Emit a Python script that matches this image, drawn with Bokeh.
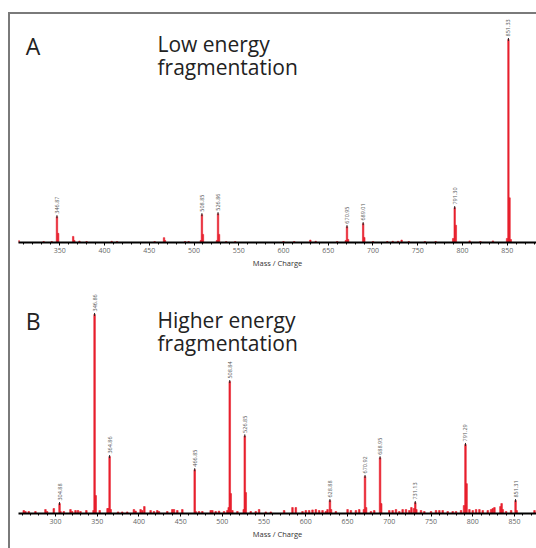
import math
from bokeh.plotting import figure
from bokeh.layouts import column
from bokeh.models import Range1d, Label, ColumnDataSource
from bokeh.core.properties import value
from bokeh.embed import file_html
from bokeh.resources import INLINE

# ---------------- data ----------------
# Panel A: low energy fragmentation (relative intensity, %)
a_mz = [304, 332, 341, 346.87, 348.2, 365.0, 366.3, 372, 380, 408, 414, 456, 466.5, 467.6,
        490, 494, 507.6, 508.85, 510.0, 525.6, 526.86, 528.0, 536, 546,
        600, 612, 630, 636, 660, 669.6, 670.95, 672.2, 689.01, 690.3, 700, 716, 722, 728, 732, 740,
        758, 770, 789.6, 791.30, 792.6, 808, 820, 834, 849.8, 851.33, 852.6, 854]
a_int = [1.0, 0.5, 0.5, 12.7, 4.5, 3.0, 1.0, 0.7, 0.5, 0.6, 0.5, 0.5, 2.4, 1.0,
         0.5, 0.5, 1.0, 13.7, 4.0, 1.0, 14.2, 4.0, 0.5, 0.5,
         0.5, 0.5, 1.2, 0.6, 0.5, 1.0, 7.8, 1.5, 9.3, 2.5, 0.5, 0.5, 0.6, 0.6, 1.2, 0.5,
         0.5, 0.5, 2.0, 17.2, 8.5, 0.8, 0.5, 0.8, 2.0, 100.0, 22.0, 1.5]
a_lab_mz = [346.87, 508.85, 526.86, 670.95, 689.01, 791.30, 851.33]
a_lab_int = [12.7, 13.7, 14.2, 7.8, 9.3, 17.2, 100.0]
a_labels = ["346.87", "508.85", "526.86", "670.95", "689.01", "791.30", "851.33"]

# Panel B: higher energy fragmentation (relative intensity, %)
b_mz = [262, 264, 268, 276, 288, 290, 298, 304.88, 306, 310, 318, 320, 324, 327, 330, 337,
        345.6, 346.86, 348.2, 353, 362.4, 363.3, 364.86, 366.2, 375, 380, 386, 394, 396, 402, 404,
        406.5, 414, 418, 422, 424, 434, 440, 442, 446, 452, 466.85, 468, 472, 476, 486, 488,
        492, 496, 502, 506, 507.6, 508.84, 510.0, 512, 518, 525.6, 526.85, 528.0, 534, 540, 544,
        552, 558, 574, 584, 588, 596, 600, 604, 608, 612, 616, 620, 624, 626, 628.88, 630.2, 636,
        650, 654, 660, 664, 669.6, 670.92, 672.2, 678, 682, 688.95, 690.3, 700, 704, 708, 712,
        716, 720, 724, 726.5, 729.6, 731.13, 732.4, 738, 742, 750, 756, 760, 764, 770, 776, 780,
        786, 789.6, 791.29, 792.6, 796, 800, 804, 808, 812, 818, 822, 824, 826, 833.2, 834.6, 836,
        840, 846, 851.31, 852.6, 874]
b_int = [1.5, 1.0, 1.0, 1.0, 2.0, 1.0, 2.5, 5.0, 1.0, 1.0, 2.0, 1.0, 1.5, 1.5, 1.0, 1.5,
         1.5, 100.0, 9.0, 1.5, 2.5, 2.5, 28.6, 2.0, 0.8, 0.8, 0.8, 2.0, 1.2, 2.0, 1.5,
         3.5, 1.5, 1.0, 1.5, 1.0, 1.0, 2.0, 2.0, 1.5, 2.0, 22.0, 1.0, 1.0, 1.0, 1.5, 1.5,
         1.0, 1.2, 1.0, 1.5, 3.0, 66.3, 10.0, 1.5, 1.0, 2.0, 39.0, 10.5, 1.0, 1.0, 2.0,
         0.8, 0.8, 1.5, 3.0, 3.0, 1.0, 1.5, 1.5, 1.8, 2.0, 1.5, 1.5, 1.0, 2.0, 6.5, 2.0, 1.0,
         2.0, 1.5, 1.5, 2.0, 2.0, 18.6, 3.0, 1.0, 1.5, 28.0, 5.0, 1.5, 1.5, 2.0, 1.0,
         2.0, 2.0, 1.5, 3.0, 2.5, 5.5, 2.0, 1.5, 1.0, 1.0, 1.5, 1.5, 1.5, 1.0, 1.0, 1.0,
         1.5, 4.0, 34.7, 15.0, 2.0, 1.5, 2.0, 2.0, 1.5, 1.5, 2.0, 2.5, 3.0, 3.5, 5.0, 2.0,
         1.0, 1.5, 6.5, 1.5, 1.5]
b_lab_mz = [304.88, 346.86, 364.86, 466.85, 508.84, 526.85, 628.88, 670.92, 688.95, 731.13, 791.29, 851.31]
b_lab_int = [5.0, 100.0, 28.6, 22.0, 66.3, 39.0, 6.5, 18.6, 28.0, 5.5, 34.7, 6.5]
b_labels = ["304.88", "346.86", "364.86", "466.85", "508.84", "526.85", "628.88", "670.92",
            "688.95", "731.13", "791.29", "851.31"]

RED = "#e8202e"
FONT = "Open Sans"
FONT_V = value(FONT)


def make_panel(mz, inten, lab_mz, lab_int, labels, xr, yr, h, bottom, bar_w,
               letter, line1, line2, pos):
    p = figure(width=526, height=h, x_range=Range1d(*xr), y_range=Range1d(*yr),
               output_backend="svg", toolbar_location=None, y_axis_location=None,
               min_border_left=8, min_border_right=0, min_border_top=0,
               min_border_bottom=bottom)
    p.outline_line_color = None
    p.grid.visible = False
    p.background_fill_color = None
    p.border_fill_color = None

    src = ColumnDataSource(dict(x=mz, top=inten))
    p.vbar(x="x", top="top", bottom=0, width=bar_w, source=src,
           fill_color=RED, line_color=RED, line_width=0.6)

    lsrc = ColumnDataSource(dict(x=lab_mz, y=lab_int, t=labels))
    p.scatter(x="x", y="y", source=lsrc, marker="dash", angle=math.pi / 2, size=3,
              line_color="#222222", line_width=1)
    p.text(x="x", y="y", text="t", source=lsrc, angle=math.pi / 2,
           text_align="left", text_baseline="middle", x_offset=0, y_offset=-3,
           text_font_size="5.5px", text_color="#555555", text_font=FONT_V)

    ax = p.xaxis[0]
    ax.axis_line_color = "black"
    ax.axis_line_width = 2
    ax.major_tick_line_color = "black"
    ax.minor_tick_line_color = "black"
    ax.major_tick_in = 0
    ax.major_tick_out = 3
    ax.minor_tick_in = 0
    ax.minor_tick_out = 2
    ax.major_label_standoff = 2
    ax.major_label_text_font = FONT
    ax.major_label_text_font_size = "7px"
    ax.major_label_text_color = "#666666"
    ax.axis_label = "Mass / Charge"
    ax.axis_label_text_font = FONT
    ax.axis_label_text_font_size = "7.5px"
    ax.axis_label_text_font_style = "normal"
    ax.axis_label_text_color = "#333333"
    ax.axis_label_standoff = 2
    ax.ticker.desired_num_ticks = 12
    ax.ticker.num_minor_ticks = 5

    (lx, ly), (tx, ty1, ty2) = pos
    p.add_layout(Label(x=lx, y=ly, text=letter, text_font=FONT, text_font_size="23px",
                       text_color="#222222", text_baseline="alphabetic"))
    p.add_layout(Label(x=tx, y=ty1, text=line1, text_font=FONT, text_font_size="21px",
                       text_color="#222222", text_baseline="alphabetic"))
    p.add_layout(Label(x=tx, y=ty2, text=line2, text_font=FONT, text_font_size="21px",
                       text_color="#222222", text_baseline="alphabetic"))
    return p


pa = make_panel(a_mz, a_int, a_lab_mz, a_lab_int, a_labels,
                (303.9, 882.7), (0, 112.3), 256, 27, 1.6,
                "A", "Low energy", "fragmentation",
                ((312.0, 96.6), (459.2, 97.6, 86.3)))
pb = make_panel(b_mz, b_int, b_lab_mz, b_lab_int, b_labels,
                (255.7, 876.4), (0, 122.1), 278, 35, 1.9,
                "B", "Higher energy", "fragmentation",
                ((264.5, 96.5), (422.3, 97.0, 85.9)))

layout = column(pa, pb, spacing=0, margin=(12, 0, 0, 8),
                styles={"border-top": "2px solid #7a7a7a", "border-left": "2px solid #7a7a7a"})

open("out.html", "w").write(file_html(layout, INLINE))
